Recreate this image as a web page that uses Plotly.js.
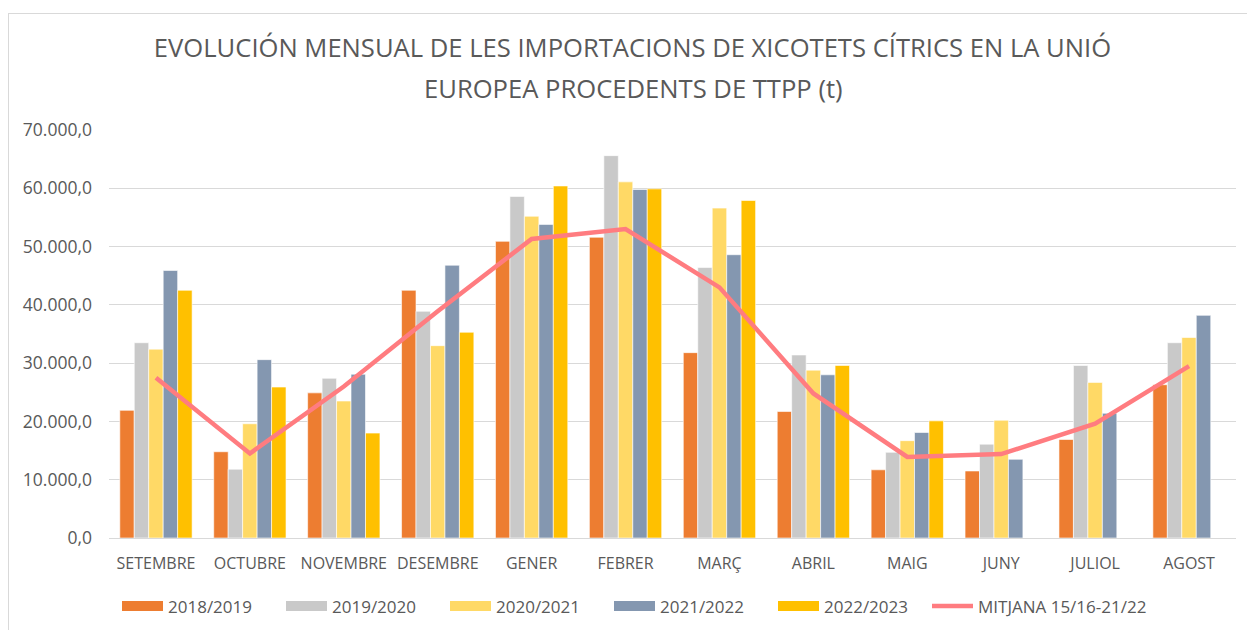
<!DOCTYPE html>
<html>
<head>
<meta charset="utf-8">
<script src="https://cdn.plot.ly/plotly-3.0.1.min.js"></script>
<style>
html,body{margin:0;padding:0;background:#fff;}
#wrap{position:relative;width:1247px;height:630px;overflow:hidden;}
#chart{width:1247px;height:630px;}
#frame{position:absolute;left:8px;top:13px;width:1300px;height:700px;border:1px solid #d9d9d9;pointer-events:none;}
</style>
</head>
<body>
<div id="wrap"><div id="chart"></div><div id="frame"></div></div>
<script>
const months = ["SETEMBRE","OCTUBRE","NOVEMBRE","DESEMBRE","GENER","FEBRER","MARÇ","ABRIL","MAIG","JUNY","JULIOL","AGOST"];
const s2018 = [21900, 14800, 24900, 42500, 50900, 51600, 31800, 21700, 11700, 11500, 16900, 26300];
const s2019 = [33500, 11800, 27400, 38900, 58600, 65600, 46400, 31400, 14700, 16100, 29600, 33500];
const s2020 = [32400, 19600, 23500, 33000, 55200, 61100, 56600, 28800, 16700, 20200, 26700, 34400];
const s2021 = [45900, 30600, 28100, 46800, 53800, 59800, 48600, 28000, 18100, 13500, 21400, 38200];
const s2022 = [42500, 25900, 18000, 35300, 60400, 59900, 57900, 29600, 20100, null, null, null];
const mitjana = [27500, 14500, 26000, 38900, 51300, 53000, 43000, 24800, 13900, 14400, 19600, 29500];
const seriesNames = ["2018/2019","2019/2020","2020/2021","2021/2022","2022/2023"];
const seriesColors = ["#ed7d31","#c9c9c9","#ffd966","#8497b0","#ffc000"];
const lineName = "MITJANA 15/16-21/22";
const lineColor = "#ff7c80";
const yTicks = [0,10000,20000,30000,40000,50000,60000,70000];
const titleLine1 = "EVOLUCIÓN MENSUAL DE LES IMPORTACIONS DE XICOTETS CÍTRICS EN LA UNIÓ";
const titleLine2 = "EUROPEA PROCEDENTS DE TTPP (t)";

const font = "'Open Sans', sans-serif";
const barData = [s2018, s2019, s2020, s2021, s2022];
const traces = [];
barData.forEach((vals, i) => {
  traces.push({
    type: "bar", x: months, y: vals, name: seriesNames[i], legendgroup: "g" + i,
    showlegend: false,
    marker: {color: seriesColors[i], line: {color: "#ffffff", width: 0.6}},
    hoverinfo: "skip"
  });
});
// legend keys drawn as wide swatches, one per bar series
barData.forEach((vals, i) => {
  traces.push({
    type: "scatter", mode: "lines", x: [months[0]], y: [null], name: seriesNames[i],
    legendgroup: "g" + i, showlegend: true, legend: "legend",
    line: {color: seriesColors[i], width: 11}, hoverinfo: "skip"
  });
});
traces.push({
  type: "scatter", mode: "lines", x: months, y: mitjana, name: lineName,
  legend: "legend2",
  line: {color: lineColor, width: 4.5, shape: "linear"}, hoverinfo: "skip"
});

const layout = {
  width: 1247, height: 630,
  paper_bgcolor: "#fff", plot_bgcolor: "#fff",
  separators: ",.",
  margin: {l: 109, r: 11, t: 129.5, b: 92.3},
  font: {family: font, color: "#595959", size: 16},
  title: {
    text: titleLine1,
    font: {family: font, size: 25.6, color: "#595959"},
    x: 0.5072, xref: "container", xanchor: "center",
    y: 0.923, yref: "container", yanchor: "middle"
  },
  annotations: [{
    text: titleLine2, showarrow: false,
    xref: "paper", x: (633 - 109) / 1127, xanchor: "center",
    yref: "paper", y: (537.7 - 88) / 408.2, yanchor: "middle",
    font: {family: font, size: 25.6, color: "#595959"}
  }],
  barmode: "group", bargap: 0.23, bargroupgap: 0,
  xaxis: {
    type: "category", showgrid: false, showline: false, zeroline: false,
    ticks: "", tickfont: {size: 16, color: "#595959"}, ticklabelstandoff: 14
  },
  yaxis: {
    range: [0, 70000], tickvals: yTicks, tickformat: ",.1f",
    showgrid: true, gridcolor: "#d9d9d9", gridwidth: 1,
    zeroline: true, zerolinecolor: "#d9d9d9", zerolinewidth: 1,
    showline: false, ticks: "", tickfont: {size: 17.5, color: "#595959"},
    ticklabelstandoff: 16
  },
  legend: {
    orientation: "h", x: 117 / 1247, xref: "container", xanchor: "left",
    y: 1 - 606.5 / 630, yref: "container", yanchor: "middle",
    font: {size: 17, color: "#595959"}, itemwidth: 41, entrywidth: 108,
    traceorder: "normal"
  },
  legend2: {
    orientation: "h", x: 927 / 1247, xref: "container", xanchor: "left",
    y: 1 - 606.5 / 630, yref: "container", yanchor: "middle",
    font: {size: 17, color: "#595959"}, itemwidth: 41
  },
  showlegend: true
};
Plotly.newPlot("chart", traces, layout, {displayModeBar: false, staticPlot: true});
</script>
</body>
</html>
